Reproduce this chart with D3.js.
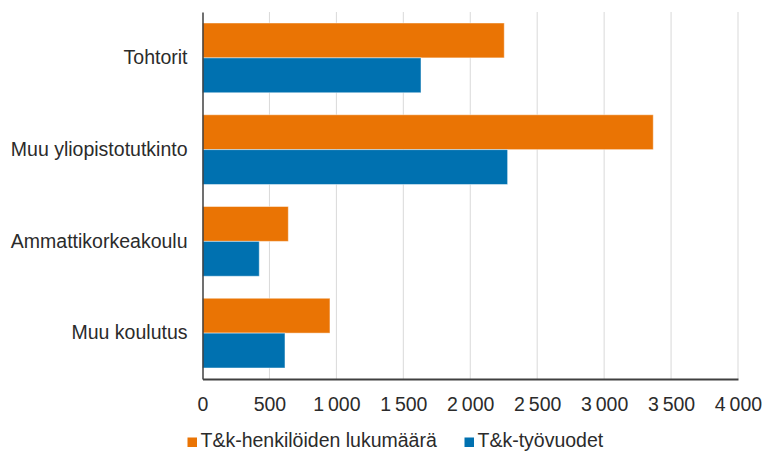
<!DOCTYPE html>
<html>
<head>
<meta charset="utf-8">
<script src="https://cdn.jsdelivr.net/npm/d3@7"></script>
<style>
  body { margin: 0; background: #fff; }
  text { font-family: "Liberation Sans", Arial, sans-serif; fill: #2b2b2b; }
</style>
</head>
<body>
<div id="chart_container"></div>
<script>
// categories and series
var categories = ["Tohtorit", "Muu yliopistotutkinto", "Ammattikorkeakoulu", "Muu koulutus"];
var seriesNames = ["T&k-henkilöiden lukumäärä", "T&k-työvuodet"];
var henkilot = [2254, 3367, 641, 952];
var tyovuodet = [1632, 2279, 424, 616];
var xTicks = [0, 500, 1000, 1500, 2000, 2500, 3000, 3500, 4000];
var colors = ["#EA7404", "#0071B0"];

var width = 763, height = 452;
var fontSize = "19.5px";
// (window.top is reserved, so plot edges get their own names)
var plotLeft = 202.5, plotRight = 738, plotTop = 12, plotBottom = 379;

var svg = d3.select("#chart_container")
  .append("svg")
    .attr("width", width)
    .attr("height", height);

var x = d3.scaleLinear().domain([0, 4000]).range([plotLeft, plotRight]);
var y = d3.scaleBand().domain(categories).range([plotTop, plotBottom])
  .paddingInner(0.24).paddingOuter(0.12);
var y1 = d3.scaleBand().domain([0, 1]).range([0, y.bandwidth()]);

var fmt = function(d) { return d3.format(",")(d).replace(/,/g, "\u2009"); };

// gridlines
svg.append("g")
  .selectAll("line")
  .data(xTicks.slice(1))
  .enter().append("line")
    .attr("x1", function(d) { return x(d); })
    .attr("x2", function(d) { return x(d); })
    .attr("y1", plotTop)
    .attr("y2", plotBottom)
    .attr("stroke", "#d9d9d9")
    .attr("stroke-width", 1);

// bars
var groups = svg.selectAll(".grp")
  .data(categories)
  .enter().append("g")
    .attr("class", "grp")
    .attr("transform", function(c) { return "translate(0," + y(c) + ")"; });

groups.selectAll("rect")
  .data(function(c, i) { return [henkilot[i], tyovuodet[i]]; })
  .enter().append("rect")
    .attr("x", x(0))
    .attr("y", function(d, j) { return y1(j); })
    .attr("width", function(d) { return x(d) - x(0); })
    .attr("height", y1.bandwidth())
    .attr("fill", function(d, j) { return colors[j]; })
    .attr("stroke", "rgba(255,255,255,0.45)")
    .attr("stroke-width", 1);

// y axis
var yAxis = svg.append("g")
  .attr("transform", "translate(" + plotLeft + ",0)")
  .call(d3.axisLeft(y).tickSize(0).tickPadding(15));
yAxis.select(".domain").attr("stroke", "#404040").attr("stroke-width", 1.5);
yAxis.selectAll("text")
  .style("font-family", "Liberation Sans, Arial, sans-serif")
  .style("font-size", fontSize)
  .attr("fill", "#2b2b2b");

// x axis
var xAxis = svg.append("g")
  .attr("transform", "translate(0," + plotBottom + ")")
  .call(d3.axisBottom(x).tickValues(xTicks).tickSize(0).tickPadding(18).tickFormat(fmt));
xAxis.select(".domain").attr("stroke", "#404040").attr("stroke-width", 2);
xAxis.selectAll("text")
  .style("font-family", "Liberation Sans, Arial, sans-serif")
  .style("font-size", fontSize)
  .attr("fill", "#2b2b2b");

// legend
var legendX = [187.5, 464.5];
var legend = svg.selectAll(".leg")
  .data(seriesNames)
  .enter().append("g")
    .attr("class", "leg")
    .attr("transform", function(d, i) { return "translate(" + legendX[i] + ",447)"; });
legend.append("rect")
  .attr("x", 0).attr("y", -9.5)
  .attr("width", 9.5).attr("height", 9.5)
  .attr("fill", function(d, i) { return colors[i]; });
legend.append("text")
  .attr("x", 13).attr("y", 0)
  .style("font-size", fontSize)
  .text(function(d) { return d; });
</script>
</body>
</html>
